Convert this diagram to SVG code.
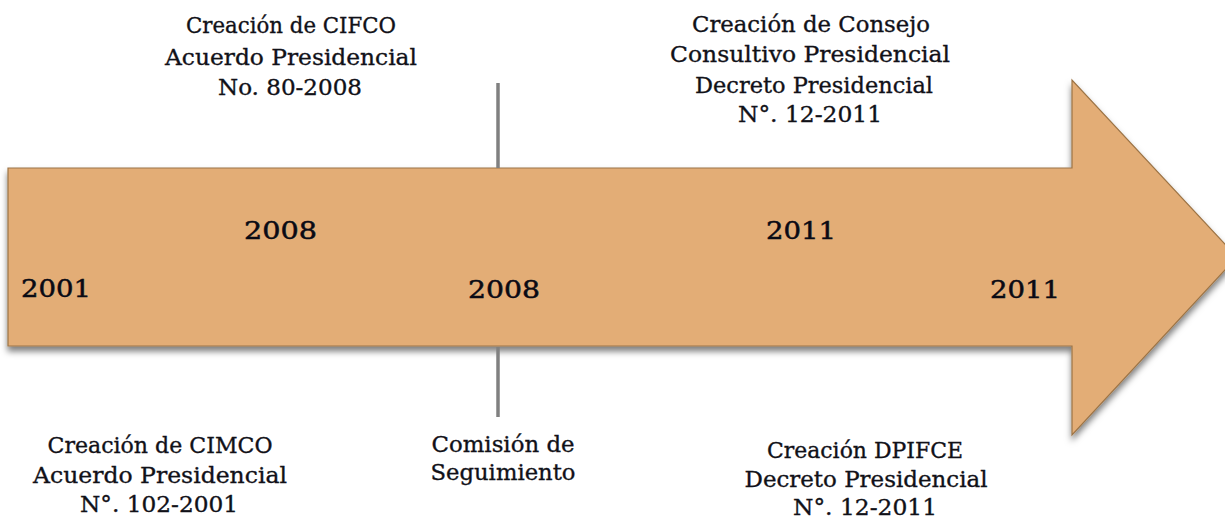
<svg xmlns="http://www.w3.org/2000/svg" width="1225" height="520" viewBox="0 0 1225 520">
  <defs>
    <filter id="shadow" x="-5%" y="-10%" width="110%" height="130%">
      <feDropShadow dx="0" dy="5" stdDeviation="3" flood-color="#000" flood-opacity="0.5"/>
    </filter>
    <style>
      .lbl { font-family: "DejaVu Serif", "Liberation Serif", serif; font-size: 23px; fill: #111118; stroke: #111118; stroke-width: 0.35; text-anchor: middle; }
      .yr { font-family: "DejaVu Serif", "Liberation Serif", serif; font-size: 25px; fill: #0a0a14; stroke: #0a0a14; stroke-width: 0.5; }
      .tick { stroke: #808080; stroke-width: 3.5; fill: none; }
    </style>
  </defs>
  <rect width="1225" height="520" fill="#ffffff"/>

  <g id="timeline-arrow">
    <polygon points="8,168 1072,168 1072,80 1237,257 1072,435 1072,346 8,346" fill="#E3AD76" stroke="#9c7446" stroke-width="1.2" filter="url(#shadow)"/>
  </g>

  <g id="connectors">
    <line class="tick" x1="498" y1="83" x2="498" y2="168"/>
    <line class="tick" x1="498" y1="347" x2="498" y2="417"/>
  </g>

  <g id="year-2001">
    <text class="yr" x="21" y="297" textLength="70" lengthAdjust="spacingAndGlyphs">2001</text>
  </g>
  <g id="year-2008-a">
    <text class="yr" x="244" y="239" textLength="73" lengthAdjust="spacingAndGlyphs">2008</text>
  </g>
  <g id="year-2008-b">
    <text class="yr" x="468" y="298" textLength="72" lengthAdjust="spacingAndGlyphs">2008</text>
  </g>
  <g id="year-2011-a">
    <text class="yr" x="766" y="239" textLength="70" lengthAdjust="spacingAndGlyphs">2011</text>
  </g>
  <g id="year-2011-b">
    <text class="yr" x="990" y="298" textLength="70" lengthAdjust="spacingAndGlyphs">2011</text>
  </g>

  <g id="cifco">
    <text class="lbl" x="291" y="33" textLength="210" lengthAdjust="spacingAndGlyphs">Creación de CIFCO</text>
    <text class="lbl" x="291" y="65" textLength="252" lengthAdjust="spacingAndGlyphs">Acuerdo Presidencial</text>
    <text class="lbl" x="290" y="95" textLength="144" lengthAdjust="spacingAndGlyphs">No. 80-2008</text>
  </g>

  <g id="consejo">
    <text class="lbl" x="811" y="32" textLength="238" lengthAdjust="spacingAndGlyphs">Creación de Consejo</text>
    <text class="lbl" x="810" y="62" textLength="280" lengthAdjust="spacingAndGlyphs">Consultivo Presidencial</text>
    <text class="lbl" x="814" y="93" textLength="238" lengthAdjust="spacingAndGlyphs">Decreto Presidencial</text>
    <text class="lbl" x="810" y="122" textLength="144" lengthAdjust="spacingAndGlyphs">N°. 12-2011</text>
  </g>

  <g id="cimco">
    <text class="lbl" x="160" y="453" textLength="225" lengthAdjust="spacingAndGlyphs">Creación de CIMCO</text>
    <text class="lbl" x="160" y="483" textLength="254" lengthAdjust="spacingAndGlyphs">Acuerdo Presidencial</text>
    <text class="lbl" x="159" y="512" textLength="158" lengthAdjust="spacingAndGlyphs">N°. 102-2001</text>
  </g>

  <g id="comision">
    <text class="lbl" x="503" y="452" textLength="143" lengthAdjust="spacingAndGlyphs">Comisión de</text>
    <text class="lbl" x="503" y="480" textLength="145" lengthAdjust="spacingAndGlyphs">Seguimiento</text>
  </g>

  <g id="dpifce">
    <text class="lbl" x="865" y="458" textLength="196" lengthAdjust="spacingAndGlyphs">Creación DPIFCE</text>
    <text class="lbl" x="866" y="487" textLength="243" lengthAdjust="spacingAndGlyphs">Decreto Presidencial</text>
    <text class="lbl" x="865" y="515" textLength="144" lengthAdjust="spacingAndGlyphs">N°. 12-2011</text>
  </g>
</svg>
